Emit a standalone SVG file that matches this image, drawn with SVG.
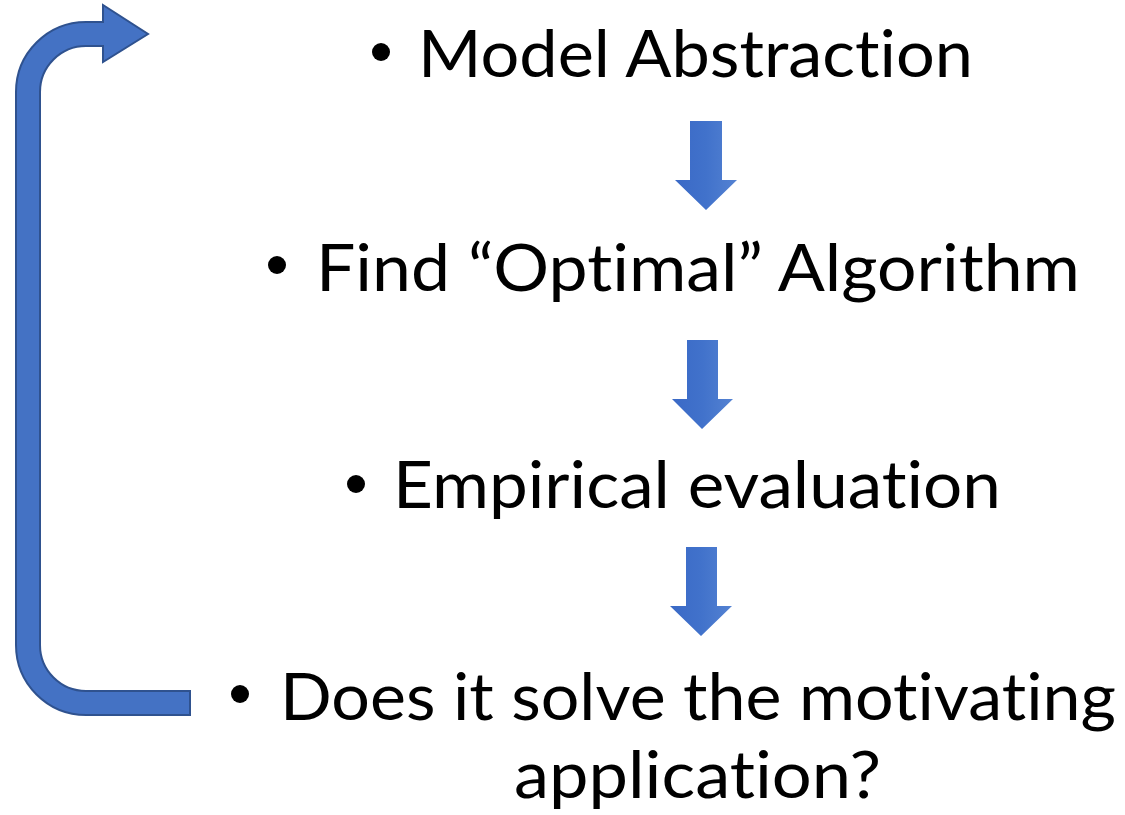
<svg xmlns="http://www.w3.org/2000/svg" width="1125" height="815" viewBox="0 0 1125 815">
  <defs>
    <style>
      .label { font-family: Lato, "Open Sans", "Liberation Sans", sans-serif; font-size: 66px; fill: #000; font-variant-ligatures: none; font-feature-settings: "liga" 0, "clig" 0; }
      .bullet { fill: #000; }
      .down { fill: url(#downFill); }
      .loop { fill: #4472C4; stroke: #2F528F; stroke-width: 2; stroke-linejoin: miter; }
    </style>
    <linearGradient id="downFill" x1="0" y1="0" x2="1" y2="0">
      <stop offset="0" stop-color="#3A69C6"/>
      <stop offset="0.5" stop-color="#4172CB"/>
      <stop offset="1" stop-color="#5482D2"/>
    </linearGradient>
  </defs>

  <rect width="1125" height="815" fill="#fff"/>

  <g id="connectors">
    <!-- loop-back arrow from the last step to the first -->
    <path id="loop-back" class="loop" d="M190,691 L86,691 A46,46 0 0 1 40,645 L40,92 A46,46 0 0 1 86,46 L103,46 L103,62 L148,34 L103,5 L103,22 L86,22 A70,70 0 0 0 16,92 L16,645 A70,70 0 0 0 86,715 L190,715 Z"/>
    <!-- step arrows -->
    <path id="arrow-1" class="down" d="M690,121 L722,121 L722,180 L737,180 L706,210 L675,180 L690,180 Z"/>
    <path id="arrow-2" class="down" d="M687,340 L718,340 L718,399 L733,399 L702,429 L672,399 L687,399 Z"/>
    <path id="arrow-3" class="down" d="M686,547 L717,547 L717,606 L732,606 L701,636 L670,606 L686,606 Z"/>
  </g>

  <g id="step-model">
    <circle class="bullet" cx="381" cy="52" r="9"/>
    <text class="label" x="418" y="77" textLength="555" lengthAdjust="spacingAndGlyphs">Model Abstraction</text>
  </g>

  <g id="step-algorithm">
    <circle class="bullet" cx="277" cy="265" r="9"/>
    <text class="label" x="316" y="291" textLength="764" lengthAdjust="spacingAndGlyphs">Find “Optimal” Algorithm</text>
  </g>

  <g id="step-evaluation">
    <circle class="bullet" cx="356" cy="484" r="9"/>
    <text class="label" x="393" y="508" textLength="608" lengthAdjust="spacingAndGlyphs">Empirical evaluation</text>
  </g>

  <g id="step-application">
    <circle class="bullet" cx="240" cy="694" r="9"/>
    <text class="label" x="280" y="720" textLength="836" lengthAdjust="spacingAndGlyphs">Does it solve the motivating</text>
    <text class="label" x="514" y="798" textLength="367" lengthAdjust="spacingAndGlyphs">application?</text>
  </g>
</svg>
